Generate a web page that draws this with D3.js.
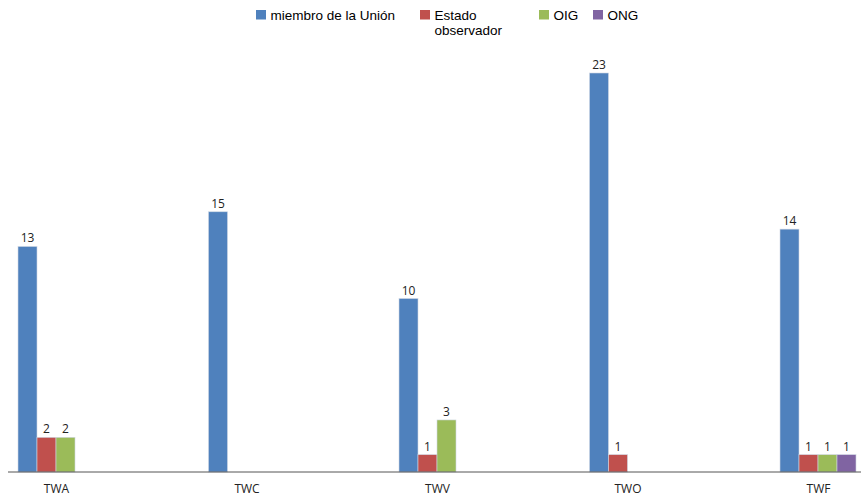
<!DOCTYPE html>
<html><head><meta charset="utf-8">
<script src="https://cdn.jsdelivr.net/npm/d3@7"></script>
<style>body{margin:0;background:#fff;}svg{display:block;}</style>
</head><body>
<script>
const categories = ["TWA","TWC","TWV","TWO","TWF"];
const seriesNames = ["miembro de la Unión","Estado observador","OIG","ONG"];
const miembro = [13,15,10,23,14];
const estado = [2,null,1,1,1];
const oig = [2,null,3,null,1];
const ong = [null,null,null,null,1];
const colors = ["#4F81BD","#C0504D","#9BBB59","#8064A2"];
const seriesValues = [miembro, estado, oig, ong];

const W = 861, H = 503;
const svg = d3.select("body").append("svg").attr("width", W).attr("height", H);

const x = d3.scalePoint().domain(categories).range([56, 818]);
const xs = d3.scaleBand().domain(d3.range(4)).range([-38, 38]);
const y = d3.scaleLinear().domain([0, 23]).range([472, 73]);

// bars
seriesValues.forEach((vals, si) => {
  const data = categories.map((c, i) => ({c, v: vals[i]})).filter(d => d.v != null);
  const g = svg.append("g");
  g.selectAll("rect").data(data).join("rect")
    .attr("x", d => x(d.c) + xs(si))
    .attr("y", d => y(d.v))
    .attr("width", xs.bandwidth())
    .attr("height", d => y(0) - y(d.v))
    .attr("fill", colors[si])
    .attr("stroke", "#d0d8e4").attr("stroke-width", 0.6);
  g.selectAll("text").data(data).join("text")
    .attr("x", d => x(d.c) + xs(si) + xs.bandwidth()/2)
    .attr("y", d => y(d.v) - 4)
    .attr("text-anchor", "middle")
    .attr("font-family", "Open Sans, sans-serif")
    .attr("font-size", 12)
    .attr("fill", "#222")
    .text(d => d.v);
});

// axis
const axis = d3.axisBottom(x).tickSize(0).tickPadding(12);
const ax = svg.append("g").attr("transform", `translate(0,${y(0)})`).call(axis);
ax.select(".domain").remove();
svg.append("line").attr("x1", 8).attr("x2", 861).attr("y1", y(0)).attr("y2", y(0))
  .attr("stroke", "#555").attr("stroke-width", 1);
ax.selectAll("text").attr("font-family", "Open Sans, sans-serif").attr("font-size", 12).attr("fill", "#222");

// legend
const legendItems = [
  {x: 256, lines: ["miembro de la Unión"]},
  {x: 420, lines: ["Estado", "observador"]},
  {x: 539, lines: ["OIG"]},
  {x: 593, lines: ["ONG"]}
];
const lg = svg.append("g");
legendItems.forEach((it, i) => {
  lg.append("rect").attr("x", it.x).attr("y", 10).attr("width", 10).attr("height", 9.5).attr("fill", colors[i]);
  const t = lg.append("text").attr("x", it.x + 14.5).attr("y", 20)
    .attr("font-family", "Liberation Sans, Arial, sans-serif").attr("font-size", 13.5).attr("fill", "#000");
  it.lines.forEach((l, j) => t.append("tspan").attr("x", it.x + 14.5).attr("dy", j ? 15 : 0).text(l));
});
</script>
</body></html>
